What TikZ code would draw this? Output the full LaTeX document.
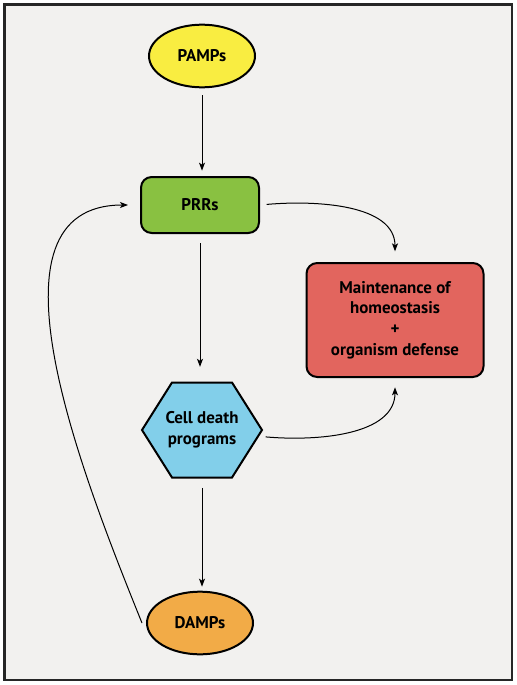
\documentclass[tikz,border=0pt]{standalone}
\usepackage{fontspec}
\setmainfont{PT Sans}
\usetikzlibrary{shapes.geometric,arrows.meta}
\definecolor{bgcol}{RGB}{242,241,239}
\definecolor{pampcol}{RGB}{249,237,65}
\definecolor{prrcol}{RGB}{137,193,65}
\definecolor{homecol}{RGB}{226,101,94}
\definecolor{cellcol}{RGB}{130,207,234}
\definecolor{dampcol}{RGB}{242,171,71}
\begin{document}
\begin{tikzpicture}[x=0.75pt,y=-0.75pt,
  box/.style={draw=black,line width=1.5pt,font=\bfseries\fontsize{12.7}{15.5}\selectfont,align=center,inner sep=0pt},
  oval/.style={box,ellipse,minimum width=79.5pt,minimum height=47pt},
  rbox/.style={box,rectangle,rounded corners=8pt},
  hexa/.style={draw=black,line width=1.5pt,line join=miter,fill=cellcol},
  link/.style={-{Stealth[length=6pt,width=4.5pt,inset=1.5pt]},line width=0.75pt}]
   \useasboundingbox (0,0) rectangle (517,685);
   \draw[line width=2pt,draw=black!85,fill=bgcol] (4.5,4.5) rectangle (512,680);
   \node[oval,fill=pampcol] (pamps) at (202,56) {PAMPs};
   \node[rbox,fill=prrcol,minimum width=88.5pt,minimum height=42pt] (prrs) at (200,205) {PRRs};
   \node[rbox,fill=homecol,minimum width=132.75pt,minimum height=85.5pt] (home) at (395,320)
     {Maintenance of\\homeostasis\\+\\organism defense};
   \draw[hexa] (202,430) ++(-60,0) -- ++(30,-47.5) -- ++(60,0) -- ++(30,47.5)
     -- ++(-30,47.5) -- ++(-60,0) -- cycle;
   \node[box,draw=none,minimum width=90pt,minimum height=71.25pt] (cell) at (202,430) {Cell death\\programs};
   \node[oval,fill=dampcol] (damps) at (200,623) {DAMPs};
   % straight arrows down the middle
   \foreach \a/\b/\s/\e in {pamps/prrs/5/4, prrs/cell/7/11, cell/damps/7/3}
     \draw[link,shorten <=\s pt,shorten >=\e pt] (\a.south) -- (\a.south |- \b.north);
   % curved arrows
   \draw[link,shorten <=5pt,shorten >=8pt] (prrs.east) to[out=5,in=90] (home.north);
   \draw[link,shorten <=2pt,shorten >=7pt] ([yshift=-5pt]cell.east) to[out=-5,in=-90] (home.south);
   \draw[link,shorten >=9pt] ([xshift=-3pt]damps.west) to[out=112,in=180] (prrs.west);
\end{tikzpicture}
\end{document}
